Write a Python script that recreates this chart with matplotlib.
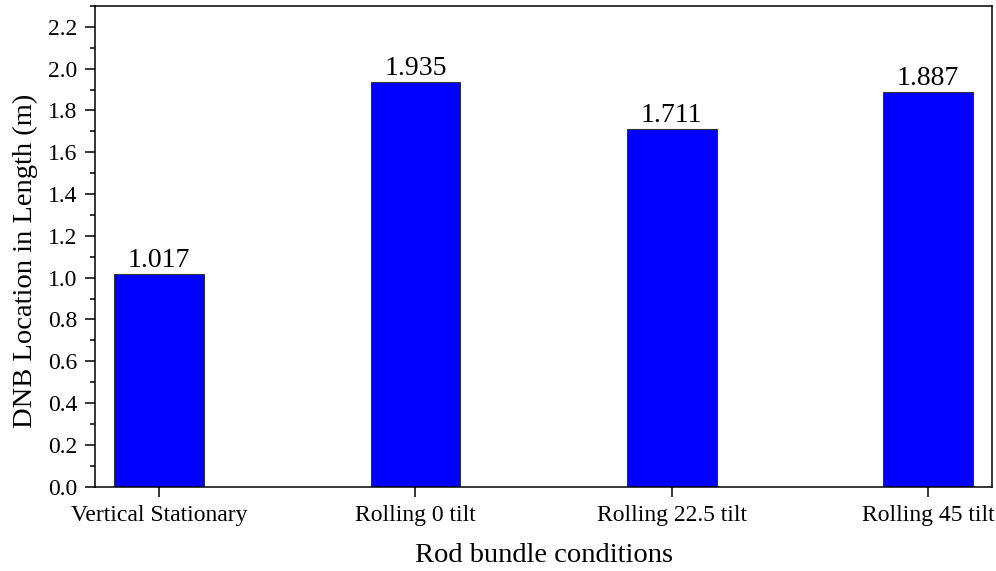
import matplotlib
matplotlib.use("Agg")
import matplotlib.pyplot as plt
from matplotlib.ticker import MultipleLocator

plt.rcParams['font.family'] = ['Liberation Serif', 'DejaVu Serif']

conditions = ['Vertical Stationary', 'Rolling 0 tilt', 'Rolling 22.5 tilt', 'Rolling 45 tilt']
dnb_location = [1.017, 1.935, 1.711, 1.887]

fig = plt.figure(figsize=(9.96, 5.71), dpi=100)
ax = fig.add_axes([0.0954, 0.1476, 0.9006, 0.842])

x = range(len(conditions))
bars = ax.bar(x, dnb_location, width=0.35, color='#0000ff', edgecolor='#333333', linewidth=0.8)

for b, v in zip(bars, dnb_location):
    ax.text(b.get_x() + b.get_width() / 2, v + 0.005, '%.3f' % v,
            ha='center', va='bottom', fontsize=20)

ax.set_xlim(-0.25, 3.25)
ax.set_ylim(0, 2.3)
ax.set_xticks(list(x))
ax.set_xticklabels(conditions)
ax.yaxis.set_major_locator(MultipleLocator(0.2))
ax.yaxis.set_minor_locator(MultipleLocator(0.1))
ax.yaxis.set_major_formatter(plt.FormatStrFormatter('%.1f'))

ax.tick_params(axis='both', which='major', direction='out', length=7, width=1.1, labelsize=17)
ax.tick_params(axis='y', which='major', pad=5.5)
ax.tick_params(axis='x', which='major', pad=6)
ax.tick_params(axis='y', which='minor', direction='out', length=3.6, width=1.1)
for s in ax.spines.values():
    s.set_linewidth(1.1)

ax.set_ylabel('DNB Location in Length (m)', fontsize=20.5, va='center')
ax.yaxis.set_label_coords(-0.078, 0.47)
ax.set_xlabel('Rod bundle conditions', fontsize=20.5, va='center')
ax.xaxis.set_label_coords(0.5, -0.144)

fig.savefig('out.png', dpi=100)
